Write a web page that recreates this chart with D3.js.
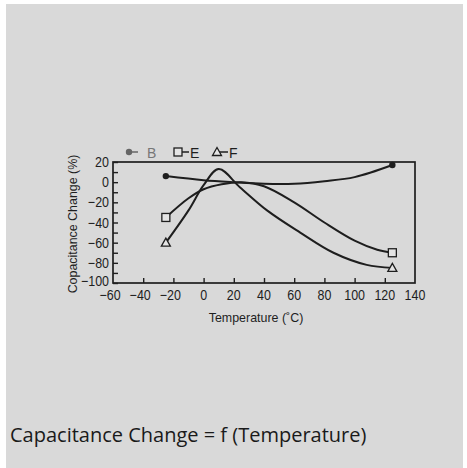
<!DOCTYPE html>
<html>
<head>
<meta charset="utf-8">
<script src="https://cdn.jsdelivr.net/npm/d3@7"></script>
<style>
  body { margin: 0; background: #fff; }
  text { font-family: "Liberation Sans Narrow", "Liberation Sans", Arial, sans-serif; }
</style>
</head>
<body>
<div id="chart"></div>
<script>
// === Data ===
const seriesNames = ["B", "E", "F"];
const xTicks = [-60, -40, -20, 0, 20, 40, 60, 80, 100, 120, 140];
const yTicks = [20, 0, -20, -40, -60, -80, -100];

const bTemp = [-25, 0, 20, 40, 60, 80, 100, 125];
const bChange = [6, 2, 0, -1.5, -1.5, 1, 5, 17];

const eTemp = [-25, -10, 0, 12, 25, 40, 60, 80, 100, 115, 125];
const eChange = [-35, -16, -7, -2, 0, -4, -20, -40, -58, -67, -70];

const fTemp = [-25, -10, 0, 10, 24, 42, 64, 86, 108, 125];
const fChange = [-60, -28, -3, 13, -5, -28, -50, -70, -82, -85];

const series = seriesNames.map((name, k) => ({
  name,
  marker: ["dot", "square", "triangle"][k],
  pts: [[bTemp, bChange], [eTemp, eChange], [fTemp, fChange]][k]
    .reduce((acc, arr, j) => j === 0 ? arr.map(t => [t]) : acc.map((p, i) => [p[0], arr[i]]), [])
}));

const W = 467, H = 468;
const plot = { left: 113, top: 162, right: 415, bottom: 283 };

const svg = d3.select("#chart").append("svg")
  .attr("width", W).attr("height", H);

// scanned page background
svg.append("rect").attr("x", 6).attr("y", 4).attr("width", 457).attr("height", 464)
  .attr("fill", "#d9d9d9");

// === Scales ===
const x = d3.scaleLinear().domain([-60, 140]).range([plot.left, plot.right]);
const y = d3.scaleLinear().domain([-100, 20]).range([plot.bottom, plot.top]);

const ink = "#1e1e1e";

// frame
svg.append("rect")
  .attr("x", plot.left).attr("y", plot.top)
  .attr("width", plot.right - plot.left).attr("height", plot.bottom - plot.top)
  .attr("fill", "none").attr("stroke", ink).attr("stroke-width", 1.7);

// === Axes (inward ticks) ===
const xAxis = svg.append("g")
  .attr("transform", `translate(0,${plot.bottom})`)
  .call(d3.axisBottom(x).tickValues(xTicks.slice(1, -1)).tickSize(-5).tickFormat(""));
xAxis.select(".domain").remove();
xAxis.selectAll("line").attr("stroke", ink).attr("stroke-width", 1.4);

const yAxis = svg.append("g")
  .attr("transform", `translate(${plot.left},0)`)
  .call(d3.axisLeft(y).ticks(12).tickSize(-5).tickFormat(""));
yAxis.select(".domain").remove();
yAxis.selectAll("line").attr("stroke", ink).attr("stroke-width", 1.4);

const fmt = d => d < 0 ? "\u2212" + Math.abs(d) : d;

// tick labels
svg.selectAll(".xlab").data(xTicks).join("text")
  .attr("transform", d => `translate(${x(d) - (d < 0 ? 3 : 0)},${plot.bottom + 17}) scale(0.86,1)`)
  .attr("text-anchor", "middle")
  .attr("font-size", 14.5)
  .attr("fill", ink)
  .text(fmt);

svg.selectAll(".ylab").data(yTicks).join("text")
  .attr("transform", d => `translate(${plot.left - 4},${y(d) + 5 - (d === -100 ? 2 : 0)}) scale(0.86,1)`)
  .attr("text-anchor", "end")
  .attr("font-size", 14.5)
  .attr("fill", ink)
  .text(fmt);

// axis titles
svg.append("text")
  .attr("transform", "translate(256,322) scale(0.92,1)")
  .attr("text-anchor", "middle")
  .attr("font-size", 13.5)
  .attr("fill", ink)
  .text("Temperature (\u02daC)");

svg.append("text")
  .attr("transform", "translate(77,224) rotate(-90) scale(0.92,1)")
  .attr("text-anchor", "middle")
  .attr("font-size", 13.5)
  .attr("fill", ink)
  .text("Copacitance Change (%)");

// === Curves ===
const line = d3.line()
  .x(d => x(d[0])).y(d => y(d[1]))
  .curve(d3.curveCatmullRom.alpha(0.5));

svg.selectAll(".curve").data(series).join("path")
  .attr("d", d => line(d.pts))
  .attr("fill", "none")
  .attr("stroke", ink)
  .attr("stroke-width", 2);

// markers at the end points
function drawMarker(g, type, cx, cy) {
  if (type === "dot") {
    g.append("circle").attr("cx", cx).attr("cy", cy).attr("r", 3.2).attr("fill", ink);
  } else if (type === "square") {
    g.append("rect").attr("x", cx - 4).attr("y", cy - 4).attr("width", 8).attr("height", 8)
      .attr("fill", "#e4e4e4").attr("stroke", ink).attr("stroke-width", 1.3);
  } else {
    g.append("path").attr("d", `M${cx},${cy - 4.5}L${cx + 4.5},${cy + 3.5}L${cx - 4.5},${cy + 3.5}Z`)
      .attr("fill", "#e4e4e4").attr("stroke", ink).attr("stroke-width", 1.3);
  }
}

const markers = svg.append("g");
series.forEach(s => {
  [s.pts[0], s.pts[s.pts.length - 1]].forEach(p => drawMarker(markers, s.marker, x(p[0]), y(p[1])));
});

// === Legend ===
const legendX = [129, 178, 217];
const legend = svg.selectAll(".legend").data(series).join("g")
  .attr("transform", (d, i) => `translate(${legendX[i]},152)`);

legend.append("line")
  .attr("x1", 0).attr("x2", (d, i) => i === 0 ? 9 : 11).attr("y1", 0).attr("y2", 0)
  .attr("stroke", (d, i) => i === 0 ? "#666" : ink).attr("stroke-width", 1.5);
legend.each(function (d, i) {
  const g = d3.select(this);
  if (i === 0) g.append("circle").attr("cx", 0).attr("cy", 0).attr("r", 3.2).attr("fill", "#666");
  else drawMarker(g, d.marker, 0, 0);
});
legend.append("text")
  .attr("x", (d, i) => i === 0 ? 18 : 12)
  .attr("y", 5.5)
  .attr("font-size", 14)
  .attr("fill", (d, i) => i === 0 ? "#777" : ink)
  .text(d => d.name);

// === Caption ===
svg.append("text")
  .attr("x", 10).attr("y", 442)
  .style("font-family", "'Open Sans', 'Noto Sans', sans-serif")
  .attr("font-size", 20)
  .attr("fill", "#1a1a1a")
  .text("Capacitance Change = f (Temperature)");
</script>
</body>
</html>
